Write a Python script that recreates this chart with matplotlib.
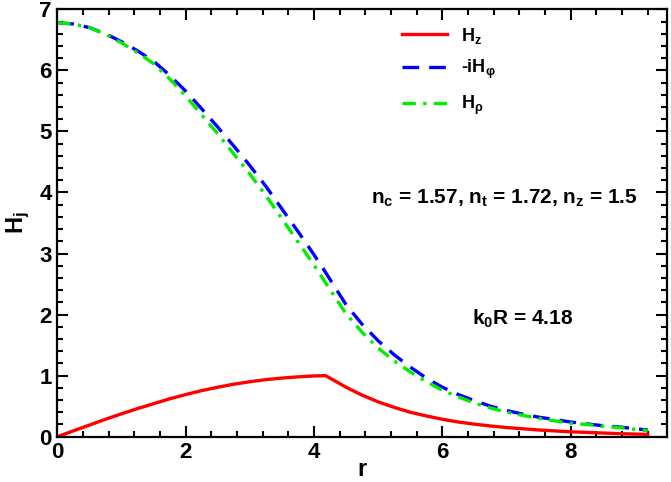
import matplotlib
matplotlib.use('Agg')
import matplotlib.pyplot as plt
from matplotlib.ticker import MultipleLocator

plt.rcParams['font.family'] = ['Liberation Sans', 'DejaVu Sans']
plt.rcParams['font.weight'] = 'bold'
plt.rcParams['mathtext.fontset'] = 'custom'
plt.rcParams['mathtext.rm'] = 'Liberation Sans:bold'
plt.rcParams['mathtext.it'] = 'Liberation Sans:bold'
plt.rcParams['mathtext.bf'] = 'Liberation Sans:bold'
plt.rcParams['mathtext.default'] = 'bf'

# radial coordinate
r = [0.0, 0.25, 0.5, 0.75, 1.0, 1.25, 1.5, 1.75, 2.0, 2.25, 2.5, 2.75,
     3.0, 3.25, 3.5, 3.75, 4.0, 4.18, 4.5, 4.75, 5.0, 5.25, 5.5, 5.75,
     6.0, 6.25, 6.5, 6.75, 7.0, 7.25, 7.5, 7.75, 8.0, 8.25, 8.5, 8.75,
     9.0, 9.2]

# H_z
hz = [0.0, 0.095, 0.19, 0.285, 0.375, 0.46, 0.54, 0.62, 0.69, 0.755, 0.81, 0.86,
      0.90, 0.935, 0.96, 0.98, 0.995, 1.0, 0.81, 0.68, 0.57, 0.48, 0.40, 0.34,
      0.285, 0.24, 0.205, 0.175, 0.15, 0.13, 0.11, 0.095, 0.08, 0.07, 0.06, 0.05,
      0.043, 0.038]

# -i H_phi
hphi = [6.78, 6.76, 6.70, 6.60, 6.47, 6.32, 6.15, 5.92, 5.66, 5.37, 5.07, 4.76,
        4.44, 4.10, 3.73, 3.36, 2.98, 2.69, 2.16, 1.84, 1.57, 1.34, 1.14, 0.96,
        0.81, 0.69, 0.59, 0.50, 0.43, 0.37, 0.32, 0.28, 0.24, 0.21, 0.18, 0.16,
        0.13, 0.11]

# H_rho
hrho = [6.78, 6.76, 6.70, 6.59, 6.45, 6.29, 6.11, 5.86, 5.58, 5.27, 4.96, 4.63,
        4.30, 3.95, 3.57, 3.19, 2.81, 2.52, 2.01, 1.71, 1.45, 1.24, 1.06, 0.90,
        0.76, 0.65, 0.55, 0.47, 0.40, 0.35, 0.30, 0.26, 0.22, 0.20, 0.17, 0.15,
        0.12, 0.10]

fig = plt.figure(figsize=(6.71, 4.82), dpi=100)
ax = fig.add_axes([0.0854, 0.094, 0.9087, 0.8867])

ax.plot(r, hz, color='#ff0000', linewidth=2.4, label=r'H$_z$')
ax.plot(r, hphi, color='#0000ff', linewidth=2.4, dashes=(5, 3), label=r'-iH$_\varphi$')
ax.plot(r, hrho, color='#00ee00', linewidth=2.4, dashes=(4, 2.2, 1, 2.2), label=r'H$_\rho$')

ax.set_xlim(0, 9.5)
ax.set_ylim(0, 7)
ax.xaxis.set_major_locator(MultipleLocator(2))
ax.xaxis.set_minor_locator(MultipleLocator(0.4))
ax.yaxis.set_major_locator(MultipleLocator(1))
ax.yaxis.set_minor_locator(MultipleLocator(0.2))
ax.tick_params(which='both', direction='in', top=True, right=True, width=1.5)
ax.tick_params(which='major', length=8, labelsize=16, pad=4)
ax.tick_params(which='minor', length=4.5)
for s in ax.spines.values():
    s.set_linewidth(1.6)

ax.set_xlabel('r', fontsize=17, fontweight='bold', labelpad=-4)
ax.set_ylabel(r'H$_j$', fontsize=17, fontweight='bold', labelpad=5)

ax.text(6.96, 3.91, r'n$_c$ = 1.57, n$_t$ = 1.72, n$_z$ = 1.5',
        fontsize=15, fontweight='bold', ha='center', va='center')
ax.text(7.25, 1.93, r'k$_0$R = 4.18',
        fontsize=15, fontweight='bold', ha='center', va='center')

leg = ax.legend(loc='upper left', bbox_to_anchor=(0.538, 1.0), frameon=False,
                fontsize=13, handlelength=2.5, labelspacing=0.7, handletextpad=0.8)

plt.savefig('out.png', dpi=100)
